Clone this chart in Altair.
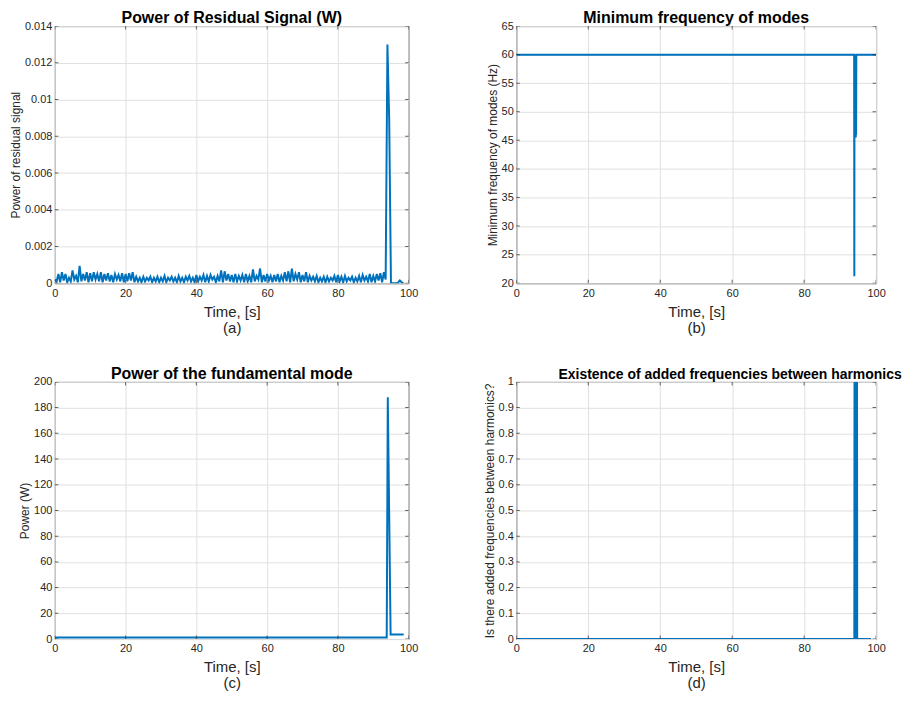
import altair as alt
import pandas as pd

FONT = "Liberation Sans"
BLUE = "#0072BD"
TXT = "#262626"

# ---------------- Panel (a): power of residual signal (units of 1e-4 W)
# peaks at t = 0, 1, 2, ..., 98 s
peaks_a = [2, 5, 6, 5, 3, 7, 4, 9.5, 5, 6,
           5.5, 6, 5, 6, 5, 5.5, 4.5, 5, 4.5, 5.5,
           5, 5.5, 6, 3.5, 3, 3.5, 3, 3.5, 3, 3.5,
           3, 4, 3, 3.5, 3, 4, 3, 3.5, 4, 3,
           4.5, 3.5, 4.5, 4, 4.5, 3.5, 4, 7, 6.5, 5,
           4.5, 5, 4, 4.5, 5, 4, 7.5, 4, 8, 4.5,
           5, 4, 4.5, 5, 4, 6, 6.5, 8, 5, 6,
           4.5, 6, 4, 3.5, 4, 3, 3.5, 3.5, 3, 4,
           4.5, 3.5, 4, 3, 3.5, 3, 4, 4.5, 3.5, 5,
           4, 5, 5.5, 6,
           130, 0, 0, 0.3, 0.5]
# troughs at t = 0.5, 1.5, ..., 98.5 s
troughs_a = [1, 0.5, 1.5, 0.5, 1, 2, 0.5, 1, 1.5, 0.5,
             1, 2, 1, 0.5, 1.5, 1, 0.5, 2, 1, 0.5,
             1, 1.5, 0.5, 1, 0.5, 1, 1.5, 0.5, 1, 0.5,
             1, 0.5, 1.5, 1, 0.5, 1, 0.5, 1.5, 1, 0.5,
             1, 1.5, 0.5, 1, 2, 0.5, 1, 0.5, 1.5, 1,
             0.5, 1, 1.5, 0.5, 1, 0.5, 1, 2, 0.5, 1,
             1.5, 0.5, 1, 0.5, 1.5, 1, 0.5, 1, 2, 0.5,
             1, 0.5, 1.5, 1, 0.5, 1, 0.5, 1, 1.5, 0.5,
             1, 0.5, 1, 1.5, 0.5, 1, 0.5, 1.5, 1, 0.5,
             1, 1.5, 0.5,
             2, 89, 0, 0, 1.5, 0]

rows = []
for k, (p, q) in enumerate(zip(peaks_a, troughs_a)):
    rows.append((float(k), p * 1e-4))
    rows.append((k + 0.5, q * 1e-4))
df_a = pd.DataFrame(rows, columns=["t", "v"])
df_a["i"] = range(len(df_a))

# ---------------- Panel (b): minimum frequency of modes (Hz)
t_b = [0, 93.9, 93.95, 94.0, 94.05, 94.1, 94.15, 94.2, 94.25, 94.3, 94.35, 94.4, 94.45, 94.5, 100]
v_b = [60, 60, 21.2, 60, 45.5, 60, 45.5, 60, 46, 60, 45.5, 60, 46, 60, 60]
df_b = pd.DataFrame({"t": t_b, "v": v_b, "i": range(len(t_b))})

# ---------------- Panel (c): power of the fundamental mode (W)
t_c = [0, 93.8, 94.1, 94.9, 98.6]
v_c = [1.2, 1.2, 188, 3.5, 3.5]
df_c = pd.DataFrame({"t": t_c, "v": v_c, "i": range(len(t_c))})

# ---------------- Panel (d): added frequencies between harmonics (0/1)
t_d = [0, 93.95, 94.0, 94.2, 94.25, 94.45, 94.5, 94.7, 94.75, 98.6]
v_d = [0, 0, 1, 1, 0, 0, 1, 1, 0, 0]
df_d = pd.DataFrame({"t": t_d, "v": v_d, "i": range(len(t_d))})

x_ticks = [0, 20, 40, 60, 80, 100]
x_domain = [0, 100]


def panel(df, title, ytitle, yvals, ydomain, letter, w, title_dx=0, title_size=16):
    xs = alt.Scale(domain=x_domain, nice=False, zero=False)
    ys = alt.Scale(domain=ydomain, nice=False, zero=False)
    xax = alt.Axis(values=x_ticks, title=["Time, [s]", letter],
                   titleFontSize=15, titlePadding=6, labelPadding=4,
                   titleLineHeight=16)
    yax = alt.Axis(values=yvals, title=ytitle, format="~r",
                   titleFontSize=12, labelPadding=3, titlePadding=2)

    line = alt.Chart(df).mark_line(color=BLUE, strokeWidth=2, clip=True).encode(
        x=alt.X("t:Q", scale=xs, axis=xax),
        y=alt.Y("v:Q", scale=ys, axis=yax),
        order="i:Q",
    )

    # inward tick marks on all four sides of the box (MATLAB style)
    xt = pd.DataFrame({"t": x_ticks + x_ticks,
                       "v": [ydomain[0]] * len(x_ticks) + [ydomain[1]] * len(x_ticks)})
    yt = pd.DataFrame({"t": [x_domain[0]] * len(yvals) + [x_domain[1]] * len(yvals),
                       "v": yvals + yvals})
    xtick = alt.Chart(xt).mark_tick(orient="vertical", size=7, thickness=1,
                                    color=TXT, clip=True).encode(
        x=alt.X("t:Q", scale=xs, axis=xax), y=alt.Y("v:Q", scale=ys, axis=yax))
    ytick = alt.Chart(yt).mark_tick(orient="horizontal", size=7, thickness=1,
                                    color=TXT, clip=True).encode(
        x=alt.X("t:Q", scale=xs, axis=xax), y=alt.Y("v:Q", scale=ys, axis=yax))

    return alt.layer(line, xtick, ytick).properties(
        width=w, height=258,
        title=alt.TitleParams(title, fontSize=title_size, fontWeight="bold", font=FONT,
                              color="#000000", dx=title_dx, offset=-6),
    )


a = panel(df_a, "Power of Residual Signal (W)", "Power of residual signal",
          [0, 0.002, 0.004, 0.006, 0.008, 0.01, 0.012, 0.014], [0, 0.014], "(a)", 355)
b = panel(df_b, "Minimum frequency of modes", "Minimum frequency of modes (Hz)",
          [20, 25, 30, 35, 40, 45, 50, 55, 60, 65], [20, 65], "(b)", 361)
c = panel(df_c, "Power of the fundamental mode", "Power (W)",
          [0, 20, 40, 60, 80, 100, 120, 140, 160, 180, 200], [0, 200], "(c)", 355)
d = panel(df_d, "Existence of added frequencies between harmonics",
          "Is there added frequencies between harmonics?",
          [0, 0.1, 0.2, 0.3, 0.4, 0.5, 0.6, 0.7, 0.8, 0.9, 1], [0, 1], "(d)", 361,
          title_dx=34, title_size=14)

chart = alt.concat(a, b, c, d, columns=2, spacing={"row": 99, "column": 108},
                   bounds="flush").properties(
    padding={"left": 0, "top": 0, "right": 0, "bottom": 0},
    background="white",
).configure_view(
    stroke=TXT, strokeWidth=1,
).configure_axis(
    grid=True, gridColor="#e0e0e0", gridWidth=1,
    domain=False, ticks=False, labelFlush=False,
    labelFont=FONT, labelFontSize=11, labelColor=TXT,
    titleFont=FONT, titleColor=TXT, titleFontWeight="normal",
)

chart.save("out.html", embed_options={"renderer": "svg", "actions": False})
